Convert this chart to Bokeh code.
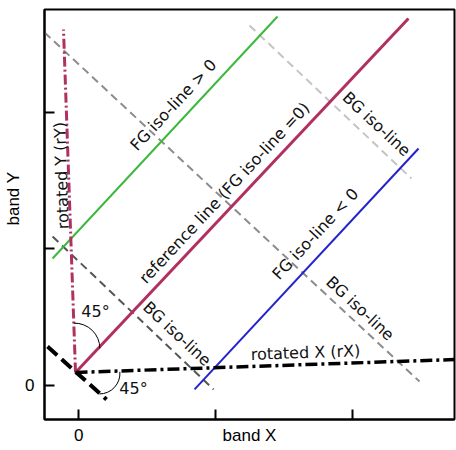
from bokeh.plotting import figure
from bokeh.models import ColumnDataSource, FixedTicker, CustomJSTickFormatter, Range1d, Title
from bokeh.embed import file_html
from bokeh.resources import INLINE

# Axis ticks (only the origin is labelled)
x_ticks = [0, 1, 2]
y_ticks = [0, 1, 2]

# Line segments in band space: [x0, x1], [y0, y1]
rot_x_xs = [-0.023, 2.75]
rot_x_ys = [0.094, 0.189]
rot_y_xs = [-0.023, -0.111]
rot_y_ys = [0.094, 2.604]
ref_xs = [-0.023, 2.413]
ref_ys = [0.094, 2.684]
fg_pos_xs = [-0.191, 1.455]
fg_pos_ys = [0.928, 2.699]
fg_neg_xs = [0.848, 2.487]
fg_neg_ys = [-0.030, 1.733]
bg_a_xs = [-0.25, 2.494]
bg_a_ys = [2.582, 0.028]
bg_b_xs = [-0.191, 0.987]
bg_b_ys = [1.089, -0.030]
bg_c_xs = [1.250, 2.435]
bg_c_ys = [2.633, 1.513]
perp_xs = [-0.228, 0.204]
perp_ys = [0.284, -0.104]

# Angle markers: centre x, centre y, radius, start, end (radians)
arc_x = [-0.030, 0.152]
arc_y = [0.270, 0.087]
arc_r = [0.185, 0.15]
arc_start = [0.0, -1.57]
arc_end = [1.60, 0.08]

# Annotations along the lines
label_text = [
    "FG iso-line > 0",
    "reference line (FG iso-line =0)",
    "BG iso-line",
    "FG iso-line < 0",
    "BG iso-line",
    "BG iso-line",
    "rotated X (rX)",
    "rotated Y (rY)",
    "45°",
    "45°",
]
label_x = [0.693, 1.067, 2.180, 1.732, 2.060, 0.720, 1.660, -0.126, 0.123, 0.401]
label_y = [2.053, 1.409, 1.912, 1.109, 0.563, 0.378, 0.240, 1.535, 0.540, -0.023]
label_angle = [0.82, 0.82, -0.75, 0.82, -0.75, -0.75, 0.034, 1.605, 0.0, 0.0]

CRIMSON = "#B03060"

p = figure(width=456, height=450, output_backend="svg", toolbar_location=None,
           x_range=Range1d(-0.25, 2.75), y_range=Range1d(-0.25, 2.75),
           min_border_left=44, min_border_right=2, min_border_top=9, min_border_bottom=31)
p.background_fill_color = "white"
p.border_fill_color = "white"
p.outline_line_color = "black"
p.outline_line_width = 2
p.grid.visible = False

fmt = CustomJSTickFormatter(code="return tick == 0 ? '0' : '';")
for ax, ticks in ((p.xaxis[0], x_ticks), (p.yaxis[0], y_ticks)):
    ax.ticker = FixedTicker(ticks=ticks)
    ax.formatter = fmt
    ax.minor_tick_line_color = None
    ax.major_tick_in = 10
    ax.major_tick_out = 0
    ax.major_tick_line_width = 2
    ax.axis_line_width = 2
    ax.major_label_text_font = "Liberation Sans"
    ax.major_label_text_font_size = "17px"
    ax.major_label_text_color = "black"
p.xaxis.major_label_standoff = 9
p.yaxis.major_label_standoff = 10

p.xaxis.axis_label = "band X"
p.xaxis.axis_label_standoff = -18
p.xaxis.axis_label_text_font = "Liberation Sans"
p.xaxis.axis_label_text_font_size = "17px"
p.xaxis.axis_label_text_font_style = "normal"
p.xaxis.axis_label_text_color = "black"

p.add_layout(Title(text="band Y", align="left", offset=194, standoff=0,
                   text_font="Liberation Sans", text_font_size="17px",
                   text_font_style="normal", text_color="black"), "left")

# Background iso-lines
p.line(bg_a_xs, bg_a_ys, line_color="#8c8c8c", line_width=2, line_dash="8 5")
p.line(bg_b_xs, bg_b_ys, line_color="#555555", line_width=2, line_dash="8 5")
p.line(bg_c_xs, bg_c_ys, line_color="#c4c4c4", line_width=2, line_dash="8 5")

# Foreground iso-lines
p.line(fg_pos_xs, fg_pos_ys, line_color="#3cb83c", line_width=2)
p.line(fg_neg_xs, fg_neg_ys, line_color="#2323cc", line_width=2)
p.line(ref_xs, ref_ys, line_color=CRIMSON, line_width=3)

# Rotated axes
p.line(rot_y_xs, rot_y_ys, line_color=CRIMSON, line_width=3, line_dash="10 3 2 3")
p.line(rot_x_xs, rot_x_ys, line_color="black", line_width=3.5, line_dash="12 4 3 4")
p.line(perp_xs, perp_ys, line_color="black", line_width=4, line_dash="13 6")

p.arc(x=arc_x, y=arc_y, radius=arc_r, start_angle=arc_start, end_angle=arc_end,
      line_color="black", line_width=1)

src = ColumnDataSource(dict(x=label_x, y=label_y, text=label_text, angle=label_angle))
p.text(x="x", y="y", text="text", angle="angle", source=src,
       text_align="center", text_baseline="middle",
       text_font_size="16px", text_font={"value": "DejaVu Sans"}, text_color="#111111")

open("out.html", "w").write(file_html(p, INLINE))
